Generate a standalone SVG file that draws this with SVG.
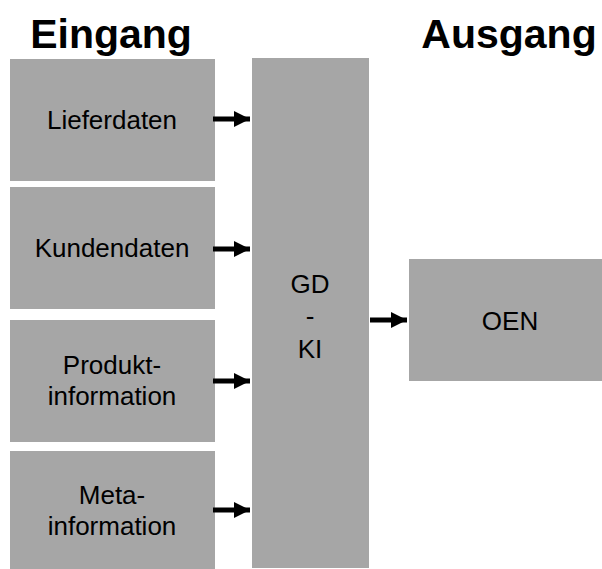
<svg xmlns="http://www.w3.org/2000/svg" width="602" height="569" viewBox="0 0 602 569">
<defs>
<style>
.box{fill:#a6a6a6}
.t{font-family:"Liberation Sans",Arial,sans-serif;font-size:26px;fill:#000;text-anchor:middle}
.h{font-family:"Liberation Sans",Arial,sans-serif;font-size:41px;font-weight:bold;fill:#000;text-anchor:middle}
.c{stroke:#000;stroke-width:5;fill:none;marker-end:url(#ah)}
</style>
<marker id="ah" markerUnits="userSpaceOnUse" markerWidth="17" markerHeight="17" refX="16" refY="8" orient="auto">
<path d="M0,0 L16,8 L0,16 Z" fill="#000"/>
</marker>
</defs>
<text class="h" x="111" y="48">Eingang</text>
<text class="h" x="509" y="48">Ausgang</text>
<g id="lieferdaten"><rect class="box" x="10" y="59" width="205" height="122"/><text class="t" x="112" y="129">Lieferdaten</text></g>
<g id="kundendaten"><rect class="box" x="10" y="187" width="205" height="122"/><text class="t" x="112" y="257">Kundendaten</text></g>
<g id="produktinformation"><rect class="box" x="10" y="320" width="205" height="122"/><text class="t" x="112" y="374">Produkt-</text><text class="t" x="112" y="405">information</text></g>
<g id="metainformation"><rect class="box" x="10" y="451" width="205" height="118"/><text class="t" x="112" y="504">Meta-</text><text class="t" x="112" y="535">information</text></g>
<g id="gdki"><rect class="box" x="252" y="58" width="117" height="510"/><text class="t" x="310" y="293">GD</text><text class="t" x="310" y="325">-</text><text class="t" x="310" y="358">KI</text></g>
<g id="oen"><rect class="box" x="409" y="259" width="193" height="122"/><text class="t" x="510" y="330">OEN</text></g>
<g id="connectors">
<line class="c" x1="213" y1="119" x2="250" y2="119"/>
<line class="c" x1="213" y1="249" x2="250" y2="249"/>
<line class="c" x1="213" y1="381" x2="250" y2="381"/>
<line class="c" x1="213" y1="510" x2="250" y2="510"/>
<line class="c" x1="370" y1="320" x2="407" y2="320"/>
</g>
</svg>
